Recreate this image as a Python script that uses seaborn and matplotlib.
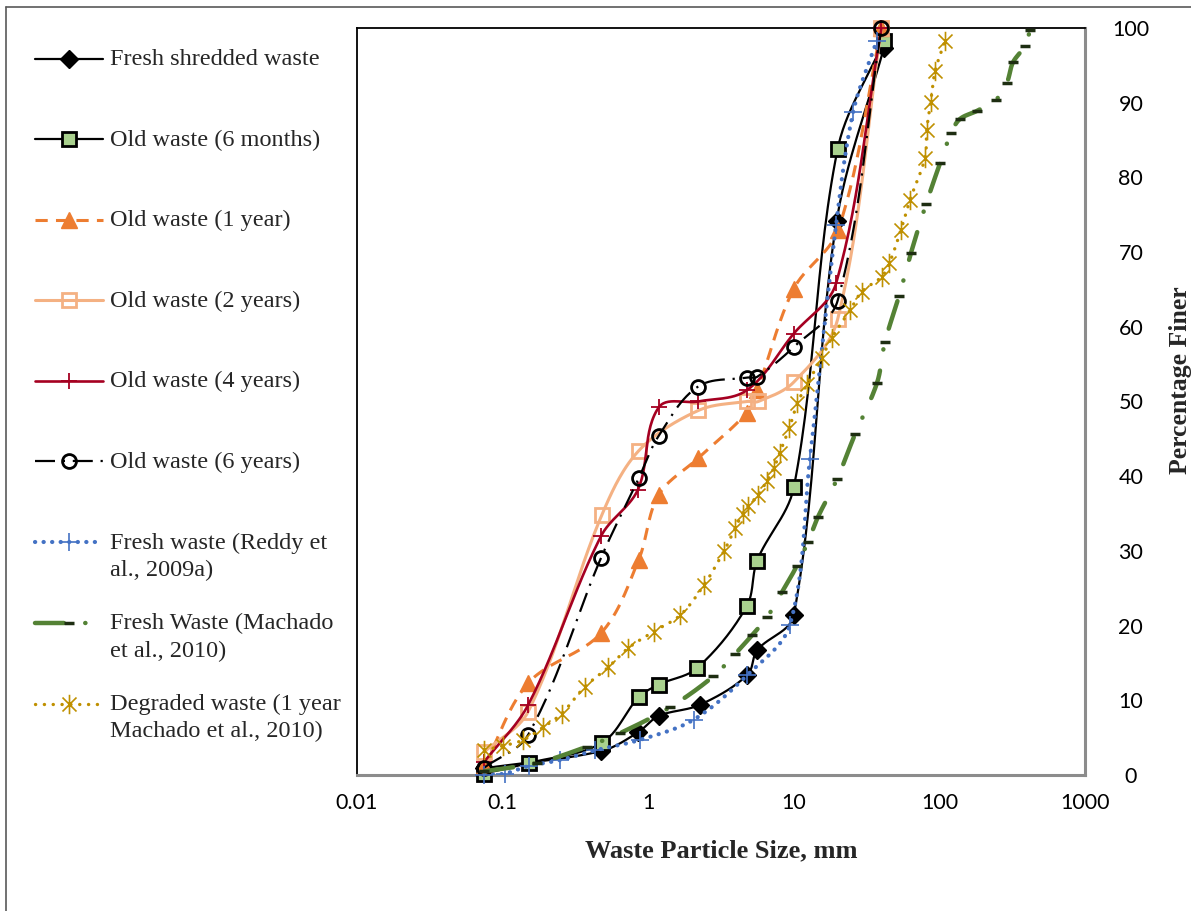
import numpy as np
import matplotlib
matplotlib.use("Agg")
import matplotlib.pyplot as plt
import seaborn as sns
from matplotlib.lines import Line2D
from matplotlib.path import Path
from matplotlib.legend_handler import HandlerLine2D

sns.set_theme(style="white")
plt.rcParams['font.family'] = ['Liberation Serif', 'DejaVu Sans']

# ---- particle size distributions (size in mm, percentage finer) ----
fresh_shredded_x = [0.075, 0.475, 0.85, 1.18, 2.27, 4.8, 5.6, 10.0, 19.7, 41.5]
fresh_shredded_y = [0.9, 3.2, 5.7, 7.9, 9.4, 13.4, 16.7, 21.4, 74.2, 97.3]

old_6m_x = [0.075, 0.151, 0.48, 0.86, 1.18, 2.16, 4.75, 5.6, 10.0, 20.0, 41.5]
old_6m_y = [0.2, 1.6, 4.3, 10.4, 12.1, 14.3, 22.6, 28.7, 38.5, 83.8, 98.2]

old_1y_x = [0.075, 0.15, 0.475, 0.86, 1.18, 2.2, 4.75, 5.6, 10.0, 20.2, 40.0]
old_1y_y = [1.2, 12.3, 19.0, 28.8, 37.5, 42.4, 48.5, 51.5, 65.1, 73.0, 100.0]

old_2y_x = [0.075, 0.15, 0.48, 0.86, 2.21, 4.75, 5.7, 10.0, 20.0, 40.0]
old_2y_y = [3.1, 8.5, 34.8, 43.4, 48.8, 50.0, 50.0, 52.6, 61.0, 100.0]

old_4y_x = [0.075, 0.15, 0.475, 0.85, 1.18, 2.2, 4.75, 10.0, 19.5, 40.0]
old_4y_y = [1.8, 9.4, 32.0, 38.2, 49.2, 50.0, 51.5, 59.1, 65.8, 100.0]

old_6y_x = [0.075, 0.15, 0.475, 0.86, 1.18, 2.2, 4.75, 5.6, 10.0, 20.0, 40.0]
old_6y_y = [1.0, 5.4, 29.1, 39.7, 45.4, 52.0, 53.2, 53.3, 57.3, 63.5, 100.0]

reddy_x = [0.075, 0.104, 0.151, 0.249, 0.433, 0.875, 2.05, 4.8, 9.4, 12.9, 19.5, 25.6, 37.1]
reddy_y = [0.0, 0.2, 1.2, 2.0, 3.3, 4.7, 7.4, 13.4, 20.1, 42.3, 73.6, 88.8, 98.3]

machado_x = [0.075, 0.172, 0.38, 0.64, 1.42, 2.8, 3.95, 5.16, 6.54, 8.3, 10.5, 12.5,
             14.7, 19.8, 26.3, 37.3, 42.3, 52.8, 63.8, 80.9, 101, 120, 138, 181, 245,
             291, 320, 387, 419]
machado_y = [0.5, 1.6, 3.8, 5.6, 9.1, 13.2, 16.2, 18.7, 21.1, 24.5, 28.0, 31.2,
             34.6, 39.6, 45.6, 52.5, 58.0, 64.1, 69.9, 76.4, 81.9, 85.9, 87.8, 88.9, 90.4,
             92.7, 95.4, 97.6, 99.7]

degraded_x = [0.075, 0.101, 0.139, 0.19, 0.254, 0.367, 0.53, 0.73, 1.09, 1.66, 2.41,
              3.32, 3.95, 4.45, 4.85, 5.7, 6.5, 7.3, 8.0, 9.3, 10.6, 12.4, 15.5, 18.2,
              24.3, 29.3, 40.1, 45.3, 54.5, 62.8, 79.6, 81.8, 87.1, 93.3, 109]
degraded_y = [3.3, 3.9, 4.7, 6.4, 8.2, 11.8, 14.4, 17.0, 19.2, 21.4, 25.4,
              30.0, 33.0, 35.0, 36.0, 37.5, 39.3, 41.1, 43.1, 46.4, 49.8, 52.4, 55.8, 58.5,
              62.2, 64.7, 66.7, 68.5, 73.0, 77.0, 82.6, 86.3, 90.1, 94.2, 98.2]

x_ticks = [0.01, 0.1, 1, 10, 100, 1000]
x_tick_labels = ["0.01", "0.1", "1", "10", "100", "1000"]
y_ticks = list(range(0, 101, 10))

labels = [
    "Fresh shredded waste",
    "Old waste (6 months)",
    "Old waste (1 year)",
    "Old waste (2 years)",
    "Old waste (4 years)",
    "Old waste (6 years)",
    "Fresh waste (Reddy et\nal., 2009a)",
    "Fresh Waste (Machado\net al., 2010)",
    "Degraded waste (1 year\nMachado et al., 2010)",
]

# asterisk marker: a cross with a vertical bar
asterisk = Path([(0, -1), (0, 1), (-0.72, -0.72), (0.72, 0.72), (-0.72, 0.72), (0.72, -0.72)],
                [Path.MOVETO, Path.LINETO] * 3)

styles = [
    dict(x=fresh_shredded_x, y=fresh_shredded_y, color="black", lw=1.6, ls="-",
         marker="D", ms=9, mfc="black", mec="black", mew=1.0, cap="butt"),
    dict(x=old_6m_x, y=old_6m_y, color="black", lw=1.6, ls="-",
         marker="s", ms=9.5, mfc="#A9D18E", mec="black", mew=2.0, cap="butt"),
    dict(x=old_1y_x, y=old_1y_y, color="#ED7D31", lw=2.2, ls=(0, (4, 2.7)),
         marker="^", ms=12, mfc="#ED7D31", mec="#ED7D31", mew=1.0, cap="butt"),
    dict(x=old_2y_x, y=old_2y_y, color="#F4B183", lw=2.2, ls="-",
         marker="s", ms=10, mfc="none", mec="#F4B183", mew=2.0, cap="butt"),
    dict(x=old_4y_x, y=old_4y_y, color="#A50021", lw=1.9, ls="-",
         marker="+", ms=12, mfc="#A50021", mec="#A50021", mew=1.3, cap="butt"),
    dict(x=old_6y_x, y=old_6y_y, color="black", lw=1.6, ls=(0, (9, 3.5, 1, 3.5)),
         marker="o", ms=10, mfc="none", mec="black", mew=2.0, cap="butt"),
    dict(x=reddy_x, y=reddy_y, color="#4472C4", lw=3.0, ls=(0, (0.05, 2.0)),
         marker="+", ms=13, mfc="#4472C4", mec="#4472C4", mew=1.2, cap="round"),
    dict(x=machado_x, y=machado_y, color="#548235", lw=3.2, ls=(0, (6.5, 4.8, 0.05, 4.8)),
         marker="_", ms=7, mfc="#1E2E12", mec="#1E2E12", mew=2.5, cap="round"),
    dict(x=degraded_x, y=degraded_y, color="#BF9000", lw=2.4, ls=(0, (0.05, 2.6)),
         marker=asterisk, ms=14, mfc="#BF9000", mec="#BF9000", mew=1.2, cap="round"),
]

# screen scale of the axes (pixels per decade, pixels per percent)
PX_DECADE = 728 / 5.0
PX_PERCENT = 747 / 100.0


def smooth(xs, ys, n=30, k=1 / 3):
    """Bezier-smoothed curve; tangents follow neighbouring points and the
    control arms are scaled to each segment's on-screen length."""
    Q = np.column_stack([np.log10(xs) * PX_DECADE, np.asarray(ys, float) * PX_PERCENT])
    m = len(Q)
    D = np.zeros_like(Q)
    for i in range(m):
        a = Q[max(i - 1, 0)]
        b = Q[min(i + 1, m - 1)]
        v = b - a
        nv = np.hypot(*v)
        D[i] = v / nv if nv > 0 else 0
    t = np.linspace(0, 1, n)[:, None]
    parts = []
    for i in range(m - 1):
        p1, p2 = Q[i], Q[i + 1]
        L = np.hypot(*(p2 - p1))
        c1 = p1 + D[i] * L * k
        c2 = p2 - D[i + 1] * L * k
        seg = ((1 - t) ** 3) * p1 + 3 * ((1 - t) ** 2) * t * c1 + 3 * (1 - t) * t ** 2 * c2 + t ** 3 * p2
        parts.append(seg if i == 0 else seg[1:])
    S = np.vstack(parts)
    return 10 ** (S[:, 0] / PX_DECADE), S[:, 1] / PX_PERCENT


W, H = 1191, 911
fig = plt.figure(figsize=(W / 100, H / 100), dpi=100)
ax = fig.add_axes([357 / W, 1 - 775 / H, (1085 - 357) / W, (775 - 28) / H])
ax.set_xscale("log")
ax.set_xlim(0.01, 1000)
ax.set_ylim(0, 100)

z = 2
for st in styles:
    sx, sy = smooth(st["x"], st["y"])
    sns.lineplot(x=sx, y=sy, ax=ax, color=st["color"], linewidth=st["lw"],
                 linestyle=st["ls"], sort=False, estimator=None, legend=False,
                 dash_capstyle=st["cap"], solid_capstyle="butt", zorder=z)
    ax.plot(st["x"], st["y"], linestyle="none", marker=st["marker"], markersize=st["ms"],
            markerfacecolor=st["mfc"], markeredgecolor=st["mec"], markeredgewidth=st["mew"],
            zorder=z + 1, clip_on=False)
    z += 2

ax.set_xticks(x_ticks, x_tick_labels)
ax.xaxis.set_minor_locator(matplotlib.ticker.NullLocator())
ax.yaxis.tick_right()
ax.set_yticks(y_ticks, [str(v) for v in y_ticks])
ax.tick_params(axis="x", length=0, pad=13, labelsize=15.5, labelfontfamily="Lato", colors="black")
ax.tick_params(axis="y", length=0, pad=33, labelsize=15.5, labelfontfamily="Lato", colors="black")
for lbl in ax.get_yticklabels():
    lbl.set_horizontalalignment("center")
ax.grid(False)

for side in ("left", "top"):
    ax.spines[side].set_color("black")
    ax.spines[side].set_linewidth(1.3)
for side in ("right", "bottom"):
    ax.spines[side].set_color("#8C8C8C")
    ax.spines[side].set_linewidth(2.2)

ax.set_xlabel("Waste Particle Size, mm", fontsize=19, fontweight="bold",
              family="Liberation Serif", labelpad=19)
ax.yaxis.set_label_position("right")
ax.set_ylabel("Percentage Finer", fontsize=18.5, fontweight="bold",
              family="Liberation Serif", labelpad=14, rotation=90, y=0.529)


# legend handles sit on the first line of each label
class FirstLineHandler(HandlerLine2D):
    def __init__(self, lift, **kw):
        super().__init__(**kw)
        self.lift = lift

    def create_artists(self, legend, orig_handle, xdescent, ydescent, width, height, fontsize, trans):
        arts = super().create_artists(legend, orig_handle, xdescent, ydescent, width,
                                      height, fontsize, trans)
        for a in arts:
            a.set_ydata(np.asarray(a.get_ydata(), float) + self.lift)
        return arts


leg_fs = 17.5
handles = []
for st in styles:
    handles.append(Line2D([], [], color=st["color"], linewidth=st["lw"], linestyle=st["ls"],
                          marker=st["marker"], markersize=st["ms"], markerfacecolor=st["mfc"],
                          markeredgecolor=st["mec"], markeredgewidth=st["mew"],
                          dash_capstyle=st["cap"]))
leg_labels = [lb if "\n" in lb else lb + "\n" for lb in labels]
lift = 10.0
leg = fig.legend(handles, leg_labels, loc="upper left", bbox_to_anchor=(35 / W, 1 - 49 / H),
                 frameon=False, prop={"family": "Liberation Serif", "size": leg_fs},
                 handlelength=2.8, handletextpad=0.3, labelspacing=1.33, borderpad=0,
                 borderaxespad=0, handler_map={Line2D: FirstLineHandler(lift)})
for txt in leg.get_texts():
    txt.set_linespacing(1.38)

# chart border
fig.add_artist(Line2D([5.5 / W, 5.5 / W], [0, 1 - 6.5 / H], transform=fig.transFigure,
                      color="#595959", linewidth=1.2))
fig.add_artist(Line2D([5.5 / W, 1], [1 - 6.5 / H, 1 - 6.5 / H], transform=fig.transFigure,
                      color="#595959", linewidth=1.2))

fig.savefig("out.png", dpi=100, facecolor="white")
